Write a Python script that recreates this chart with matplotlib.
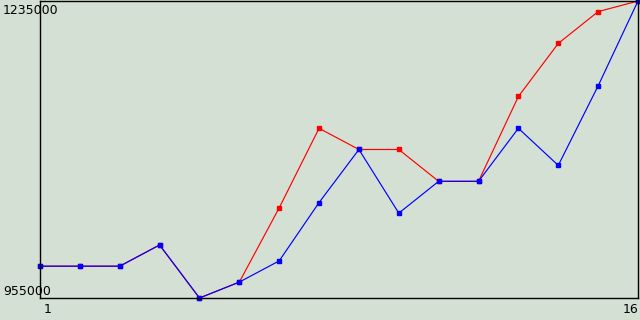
import matplotlib
matplotlib.use("Agg")
import matplotlib.pyplot as plt
from matplotlib.transforms import blended_transform_factory

x=list(range(1,17))
blue=[985000,985000,985000,1005000,955000,970000,990000,1045000,1095000,1035000,
      1065000,1065000,1115000,1080000,1155000,1235000]
red=[985000,985000,985000,1005000,955000,970000,1040000,1115000,1095000,1095000,
     1065000,1065000,1145000,1195000,1225000,1235000]
ymin,ymax=955000,1235000
xlabels=["1","16"]

bg="#d4e0d3"
fig=plt.figure(figsize=(6.4,3.2),dpi=100,facecolor=bg)
ax=fig.add_axes([40/640,22/320,598/640,297/320],facecolor=bg)

ax.plot(x,red,color="#ff0000",lw=0.85,marker="s",ms=2.2,mec="#ff0000",clip_on=False)
ax.plot(x,blue,color="#0000ff",lw=0.85,marker="s",ms=2.2,mec="#0000ff",clip_on=False)

ax.set_xlim(x[0],x[-1])
ax.set_ylim(ymin,ymax)
ax.set_xticks([])
ax.set_yticks([])
for s in ax.spines.values():
    s.set_linewidth(1.0)
    s.set_color("black")

fs=9
tr=blended_transform_factory(fig.transFigure,ax.transData)
ax.text(3/640,ymax-3*(ymax-ymin)/297,str(ymax),transform=tr,fontsize=fs,ha="left",va="top")
ax.text(3/640,ymin,str(ymin),transform=tr,fontsize=fs,ha="left",va="bottom")
trx=blended_transform_factory(ax.transData,fig.transFigure)
ax.text(x[0]+0.08,4/320,xlabels[0],transform=trx,fontsize=fs,ha="left",va="bottom")
ax.text(x[-1],4/320,xlabels[1],transform=trx,fontsize=fs,ha="right",va="bottom")

fig.savefig("out.png",dpi=100,facecolor=bg)
